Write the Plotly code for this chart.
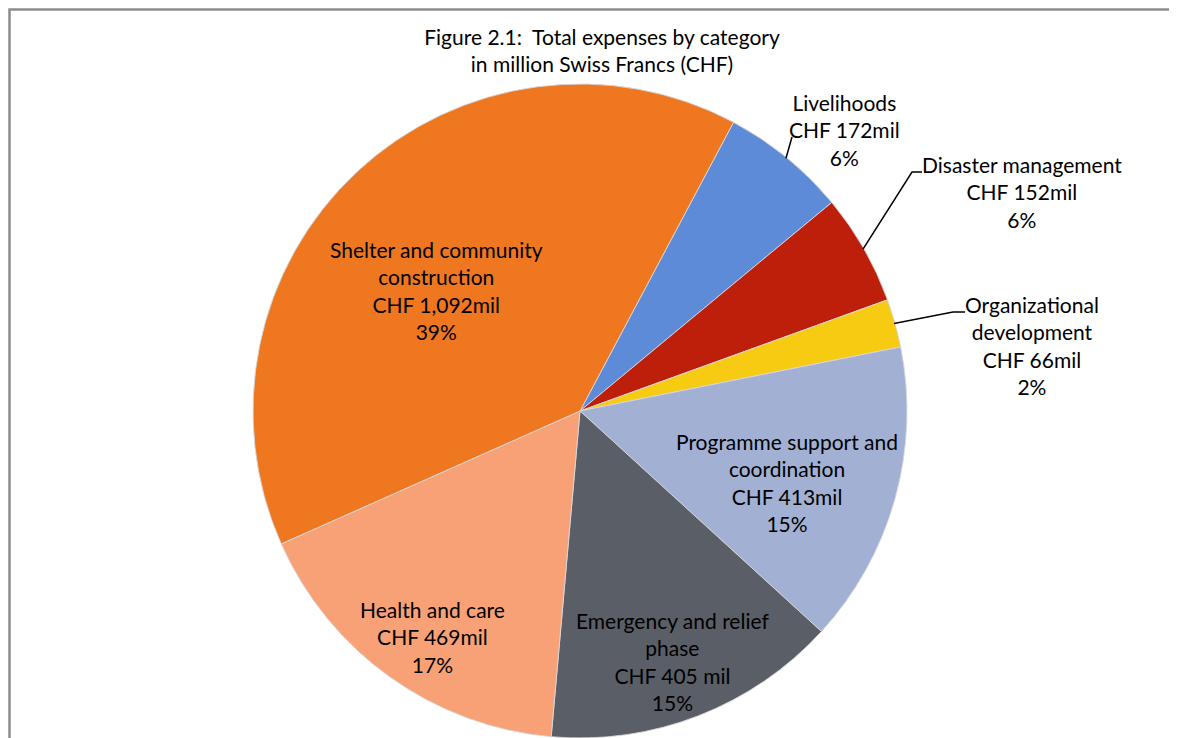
import math
import plotly.graph_objects as go

# ---------------- data (clockwise from Livelihoods) ----------------
categories = [
    "Livelihoods",
    "Disaster management",
    "Organizational<br>development",
    "Programme support and<br>coordination",
    "Emergency and relief<br>phase",
    "Health and care",
    "Shelter and community<br>construction",
]
values_mchf = [172, 152, 66, 413, 405, 469, 1092]
value_labels = ["CHF 172mil", "CHF 152mil", "CHF 66mil", "CHF 413mil",
                "CHF 405 mil", "CHF 469mil", "CHF 1,092mil"]
percent_labels = ["6%", "6%", "2%", "15%", "15%", "17%", "39%"]

# ---------------- styling / layout ----------------
colors = ["#5D8BD8", "#BE1F0B", "#F6CB12", "#A2B1D3",
          "#5A5E66", "#F8A176", "#EF7720"]
W, H = 1177, 738
OFF = 8                       # page (body) margin of the html page
ROT = 28                      # start angle of first slice (clockwise from 12 o'clock)
CX, CY, R = 580 - OFF, 411 - OFF, 327   # pie centre / radius in figure pixels
FONT = "Lato"

# label block centres (figure pixels, from top-left); outside labels get leader lines
label_pos = [(844, 130), (1022, 192), (1032, 346), (787, 482),
             (672, 661), (433, 637), (436, 291)]
# leader line bend points for the outside labels (None = inside label)
leader_bends = [[(792, 137)],
                [(912, 172), (922, 172)],
                [(953, 312), (965, 312)],
                None, None, None, None]


def px(x):
    return x / W


def py(y):
    return 1 - y / H


texts = [f"{c}<br>{v}<br>{p}" for c, v, p in zip(categories, value_labels, percent_labels)]

fig = go.Figure(go.Pie(
    labels=categories,
    values=values_mchf,
    textinfo="none",
    sort=False,
    direction="clockwise",
    rotation=ROT,
    marker=dict(colors=colors, line=dict(color="rgba(215,215,220,0.9)", width=1)),
    automargin=False,
    showlegend=False,
    hovertext=texts,
    hoverinfo="text",
    domain=dict(x=[px(CX - R), px(CX + R)], y=[py(CY + R), py(CY - R)]),
))

annotations = []
shapes = []
total = sum(values_mchf)
cum = 0
for i, (t, (lx, ly)) in enumerate(zip(texts, label_pos)):
    annotations.append(dict(
        text=t, x=px(lx - OFF), y=py(ly - OFF), xref="paper", yref="paper",
        xanchor="center", yanchor="middle", showarrow=False, align="center",
        font=dict(family=FONT, size=21, color="black"),
    ))
    mid = ROT + (cum + values_mchf[i] / 2) / total * 360
    cum += values_mchf[i]
    if leader_bends[i]:
        a = math.radians(mid)
        ex, ey = CX + (R - 1) * math.sin(a), CY - (R - 1) * math.cos(a)
        pts = [(ex, ey)] + [(bx - OFF, by - OFF) for bx, by in leader_bends[i]]
        path = "M " + " L ".join(f"{px(x):.5f},{py(y):.5f}" for x, y in pts)
        shapes.append(dict(type="path", xref="paper", yref="paper", path=path,
                           line=dict(color="black", width=1.5)))

# chart frame (extends past the right / bottom edges as in the reference)
shapes.append(dict(type="rect", xref="paper", yref="paper",
                   x0=px(1.5), x1=1.02, y0=-0.02, y1=py(1.5),
                   line=dict(color="#8C8C8C", width=2.5), layer="below"))

fig.update_layout(
    width=W, height=H,
    margin=dict(l=0, r=0, t=0, b=0),
    paper_bgcolor="white",
    plot_bgcolor="white",
    title=dict(
        text="Figure 2.1:\u00a0 Total expenses by category<br>in million Swiss Francs (CHF)",
        x=px(602 - OFF), xanchor="center",
        y=py(37), yanchor="top",
        xref="paper", yref="container",
        font=dict(family=FONT, size=21, color="black"),
    ),
    annotations=annotations,
    shapes=shapes,
)

fig.write_html("out.html")
